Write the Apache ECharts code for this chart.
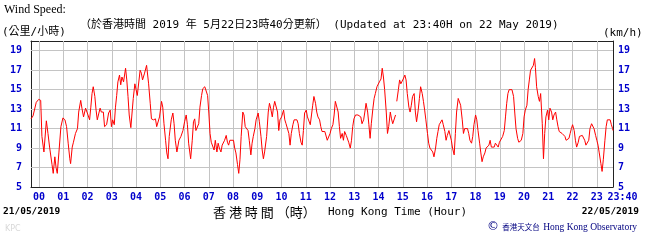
<!DOCTYPE html>
<html><head><meta charset="utf-8">
<script src="https://cdn.jsdelivr.net/npm/echarts@6/dist/echarts.min.js"></script>
<style>html,body{margin:0;padding:0;background:#fff}#c{width:650px;height:243px}</style>
</head><body><div id="c"></div>
<script>
// minutes from 00:00 on 22/05/2019 (negative = 21/05), wind speed km/h
const minutes = [-20,-15,-7,-1,4,7,12,18,22,26,32,35,39,42,45,49,54,59,64,68,72,76,78,82,85,90,95,98,103,106,110,115,118,121,125,128,131,134,138,141,144,148,151,154,159,162,167,172,176,179,182,186,189,192,195,199,202,205,209,214,217,220,223,227,230,233,237,240,243,247,250,253,256,261,266,
268,271,275,278,283,288,291,294,298,303,306,309,313,316,319,322,327,331,334,337,341,346,351,356,360,364,367,370,375,379,382,385,388,392,395,398,402,405,410,413,417,420,423,426,430,433,436,440,443,446,450,453,456,459,463,466,469,472,476,481,484,487,491,494,497,500,504,507,510,514,517,520,524,527,530,534,537,542,545,549,552,555,558,
563,567,570,573,577,580,583,587,590,593,596,600,605,608,611,614,618,621,624,628,631,634,638,641,644,648,651,654,657,661,664,667,671,674,677,680,684,687,690,694,697,700,703,707,710,713,717,720,723,727,730,733,737,740,743,746,750,753,756,760,763,766,770,773,776,779,783,786,789,793,796,799,803,806,809,813,816,819,822,826,829,832,836,839,842,846,849,
852,855,859,862,865,869,872,875,878,882,883,885,889,892,895,898,901,905,908,911,915,918,921,924,928,931,934,938,941,944,948,951,954,957,961,964,967,971,974,977,981,984,987,990,994,997,1000,1004,1007,1010,1014,1017,1020,1023,1027,1030,1033,1037,1040,1043,1047,1050,1053,1057,1060,1063,1066,1070,1073,1076,1080,1083,1086,1090,1093,1096,1099,1103,1106,1109,1113,1116,1119,1123,1126,1129,1133,1136,1139,1143,
1147,1151,1154,1157,1160,1163,1167,1170,1174,1177,1180,1184,1187,1190,1193,1197,1200,1203,1207,1210,1213,1216,1220,1223,1226,1228,1231,1235,1238,1241,1245,1248,1251,1254,1258,1261,1264,1268,1271,1274,1278,1281,1284,1287,1291,1294,1297,1301,1304,1307,1311,1314,1317,1320,1324,1327,1330,1334,1337,1340,1344,1347,1350,1353,1357,1360,1363,1367,1370,1373,1377,1380,1383,1386,1390,1393,1396,1400,1403,1406,1409,1413,1416,1419,1420];
const speeds = [12.0,12.3,13.7,14.0,13.9,10.2,8.6,11.8,10.5,9.1,7.3,6.4,8.1,7.0,6.4,8.5,11.2,12.1,11.9,11.2,9.5,7.9,7.4,9.1,9.6,10.5,11.0,12.7,13.9,13.1,12.2,13.1,12.9,12.4,11.9,13.2,14.6,15.3,14.3,12.9,11.9,12.6,13.1,12.7,12.7,11.2,11.4,12.6,12.9,11.2,11.9,11.4,13.2,14.4,15.8,16.5,15.5,16.3,15.8,17.2,16.0,14.3,12.4,11.1,12.6,14.1,15.6,15.0,14.4,14.6,17.0,16.7,16.0,16.7,17.5,
17.3,15.6,13.6,12.0,11.9,12.0,11.2,11.0,12.2,13.8,13.2,11.5,9.8,8.5,7.9,10.2,11.9,12.6,11.5,9.8,8.6,9.8,10.2,10.8,11.7,12.4,11.4,9.5,7.9,9.8,11.7,12.0,10.8,10.8,11.5,13.2,14.4,15.1,15.3,15.1,14.4,12.6,10.5,9.6,9.8,8.8,9.8,8.6,9.5,9.0,8.6,9.3,9.1,9.8,10.3,9.6,9.3,9.8,10.0,9.8,9.0,8.5,7.3,6.4,7.8,10.2,12.7,12.4,11.2,11.0,10.8,9.8,8.3,9.5,10.2,11.0,11.9,12.6,11.7,10.2,8.8,7.9,8.6,
10.2,12.7,13.6,13.1,12.2,13.2,13.8,13.9,12.7,10.8,11.9,12.2,12.9,11.9,11.5,11.7,10.5,9.3,10.5,11.4,11.9,12.0,11.9,11.5,10.5,9.6,9.3,10.8,12.6,12.9,12.2,12.0,11.4,12.4,13.4,14.3,13.6,12.7,12.2,11.9,11.2,10.7,10.8,10.7,10.5,9.8,9.6,10.5,11.0,11.4,12.4,13.8,13.9,12.7,11.2,10.0,10.5,9.8,10.7,10.3,10.5,9.6,9.0,9.8,11.2,12.0,12.4,12.6,12.4,12.6,12.2,11.5,11.9,12.7,13.6,12.7,11.4,10.0,11.5,13.1,14.1,14.6,15.3,15.3,15.8,16.1,17.2,
16.3,15.0,12.7,10.5,11.2,12.7,12.0,11.5,11.5,12.4,null,13.8,15.0,16.0,15.6,15.8,16.1,16.5,16.0,14.6,13.2,12.7,13.4,14.3,14.6,12.7,11.7,12.9,14.1,15.3,14.6,13.8,12.9,11.9,10.5,9.5,9.0,9.1,8.6,8.1,9.0,10.0,10.7,11.4,11.5,11.9,11.4,10.7,9.8,10.3,10.8,10.7,9.8,9.0,8.3,10.5,12.7,14.1,14.3,13.4,11.9,10.5,11.0,11.0,11.0,10.5,9.8,9.5,10.2,11.4,12.4,11.9,10.8,9.5,8.5,7.6,8.1,8.5,9.0,9.1,9.3,9.8,9.1,9.3,9.1,9.5,9.6,9.1,9.6,9.8,
10.2,10.8,12.2,13.6,14.6,15.0,15.0,15.0,14.3,12.6,11.0,10.0,9.6,9.6,9.8,10.5,12.2,12.9,13.4,15.0,16.0,17.0,17.2,17.5,18.2,17.3,15.3,14.3,13.8,14.6,11.5,7.9,10.5,12.2,12.9,11.9,13.1,12.7,11.9,12.4,12.7,11.9,11.2,10.7,10.8,10.5,10.3,10.2,9.8,9.6,10.0,10.5,11.0,11.4,10.8,9.8,9.1,9.6,10.2,10.0,10.3,10.2,9.8,9.3,9.3,9.8,11.0,11.5,11.7,11.0,10.3,9.8,9.3,8.5,7.4,6.6,7.8,9.8,11.2,11.9,12.0,11.9,11.4,11.0,10.8];
const xTickValues = [0,60,120,180,240,300,360,420,480,540,600,660,720,780,840,900,960,1020,1080,1140,1200,1260,1320,1380];
const xLabelValues = xTickValues.concat([1420]);
const xLabelTexts = ['00','01','02','03','04','05','06','07','08','09','10','11','12','13','14','15','16','17','18','19','20','21','22','23','23:40'];
const yGridValues = [7, 9, 11, 13, 15, 17, 19];

const chart = echarts.init(document.getElementById('c'), null, {renderer: 'canvas'});
const blue = '#0000cc';
const frame = {show: true, onZero: false, lineStyle: {color: '#222', width: 1}};
const tickFont = {color: blue, fontFamily: 'DejaVu Sans Mono', fontWeight: 'bold', fontSize: 10};
const mono = "'DejaVu Sans Mono','Noto Sans CJK TC'";
const gridColor = '#c4c4c4';
const yAxisBase = {
  type: 'value', min: 5, max: 20, interval: 2,
  axisLine: frame, axisTick: {show: false},
  axisLabel: Object.assign({formatter: v => v === 20 ? '' : String(v)}, tickFont)
};
const gridLines = xTickValues.map(v => ({xAxis: v})).concat(yGridValues.map(v => ({yAxis: v})));
chart.setOption({
  animation: false,
  backgroundColor: '#fff',
  grid: {left: 31, right: 37, top: 41, bottom: 56, show: false},
  xAxis: [{
    type: 'value', min: -20, max: 1420, position: 'bottom',
    axisLine: frame,
    axisTick: {show: true, inside: true, length: 4, lineStyle: {color: '#222'}, customValues: xTickValues},
    splitLine: {show: true, lineStyle: {color: gridColor, width: 1, type: 'solid'}},
    axisLabel: Object.assign({
      margin: 5,
      customValues: xLabelValues,
      formatter: v => { const i = xLabelValues.indexOf(v); const t = xLabelTexts[i]; return v === 1420 ? '{e|' + t + '}' : t; },
      rich: {e: Object.assign({padding: [0, 0, 0, 19]}, tickFont)}
    }, tickFont)
  }, {
    type: 'value', min: -20, max: 1420, position: 'top',
    axisLine: frame, axisTick: {show: false}, axisLabel: {show: false}, splitLine: {show: false}
  }],
  yAxis: [
    Object.assign({}, yAxisBase, {position: 'left', splitLine: {show: true, lineStyle: {color: gridColor, width: 1, type: 'solid'}}, axisLabel: Object.assign({}, yAxisBase.axisLabel, {margin: 9})}),
    Object.assign({}, yAxisBase, {position: 'right', splitLine: {show: false}, axisLabel: Object.assign({}, yAxisBase.axisLabel, {margin: 5})})
  ],
  series: [{
    type: 'line', showSymbol: false, connectNulls: false, z: 3,
    lineStyle: {color: '#ff0000', width: 1}, itemStyle: {color: '#ff0000'},
    data: minutes.map((m, i) => [m, speeds[i]]),
    markLine: {
      silent: true, z: 1, symbol: ['none', 'none'], animation: false, precision: 0,
      label: {show: false}, emphasis: {disabled: true},
      lineStyle: {color: gridColor, width: 1, type: 'solid', opacity: 1},
      data: gridLines
    }
  }],
  graphic: [
    {type: 'text', x: 4, y: 10, style: {text: 'Wind Speed:', font: "12px 'Liberation Serif'", fill: '#000', verticalAlign: 'middle'}},
    {type: 'text', x: 2, y: 32, style: {text: '(公里/小時)', font: "11px " + mono, fill: '#000', verticalAlign: 'middle'}},
    {type: 'text', x: 80, y: 25, style: {text: '（於香港時間 2019 年 5月22日23時40分更新） (Updated at 23:40H on 22 May 2019)', font: "11px " + mono, fill: '#000', verticalAlign: 'middle'}},
    {type: 'text', x: 603, y: 33.5, style: {text: '(km/h)', font: "11px " + mono, fill: '#000', verticalAlign: 'middle'}},
    {type: 'text', x: 3, y: 212, style: {text: '21/05/2019', font: "bold 9.5px 'DejaVu Sans Mono'", fill: '#000', verticalAlign: 'middle'}},
    {type: 'text', x: 639, y: 212, style: {text: '22/05/2019', font: "bold 9.5px 'DejaVu Sans Mono'", fill: '#000', align: 'right', verticalAlign: 'middle'}},
    {type: 'text', x: 213, y: 212, style: {text: '香 港 時 間 （時）', font: "13px 'Noto Sans CJK TC'", fill: '#000', verticalAlign: 'middle'}},
    {type: 'text', x: 328, y: 212, style: {text: 'Hong Kong Time (Hour)', font: "11px 'DejaVu Sans Mono'", fill: '#000', verticalAlign: 'middle'}},
    {type: 'text', x: 487, y: 227, style: {
      text: '{c|©} {z|香港天文台} {e|Hong Kong Observatory}', verticalAlign: 'middle', fill: '#000080',
      rich: {
        c: {fontSize: 12, fontFamily: 'DejaVu Sans', fill: '#000080'},
        z: {fontSize: 7.5, fontFamily: 'Noto Sans CJK TC', fill: '#000080'},
        e: {fontSize: 9.5, fontFamily: 'Liberation Serif', fill: '#000080'}
      }}},
    {type: 'text', x: 5, y: 229, style: {text: 'KPC', font: "8px 'DejaVu Sans'", fill: '#d8d8d8', verticalAlign: 'middle'}}
  ]
});
</script></body></html>
